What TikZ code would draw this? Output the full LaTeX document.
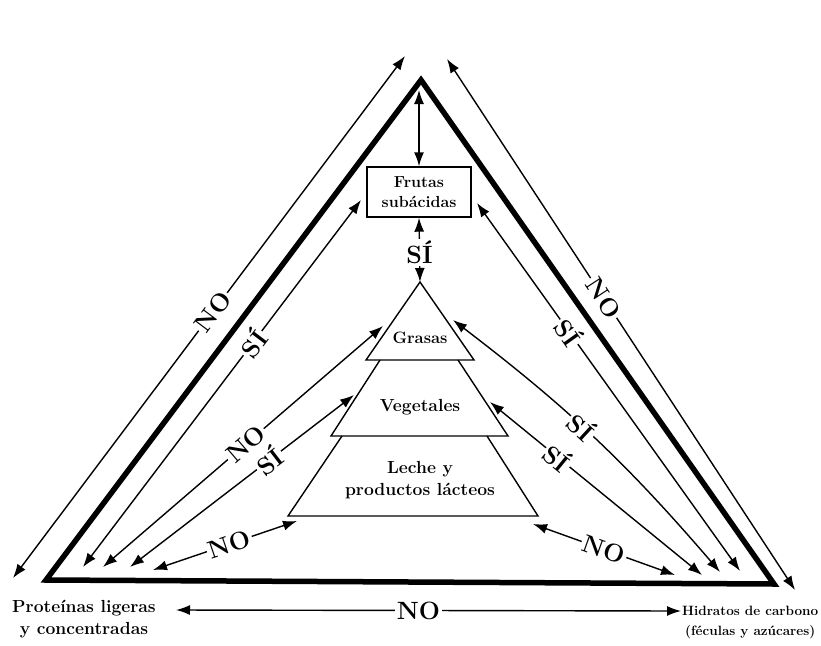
\documentclass[tikz,border=0pt]{standalone}
\usepackage{tikz}
\usetikzlibrary{positioning, arrows.meta}

\begin{document}
\begin{tikzpicture}[
    x=1pt, y=-1pt,
    frame/.style   = {line width=5.5pt, line join=miter, miter limit=10},
    tier/.style    = {line width=1.4pt, line join=miter},
    food/.style    = {font=\fontsize{17.5}{22}\selectfont\bfseries, align=center, inner sep=1pt},
    fruit/.style   = {draw, line width=1.4pt, font=\fontsize{16}{20}\selectfont\bfseries,
                      align=center, minimum width=104pt, minimum height=50pt, inner sep=2pt},
    pair/.style    = {{Latex[length=14pt,width=10pt]}-{Latex[length=14pt,width=10pt]}, line width=1.4pt},
    verdict/.style = {font=\fontsize{25}{25}\selectfont\bfseries, fill=white, inner sep=2pt},
  ]
    \useasboundingbox (0,0) rectangle (821,645);

    % --- outer triangle ---
    \coordinate (top) at (421,80);
    \coordinate (lft) at (46,580);
    \coordinate (rgt) at (774,584);
    \draw[frame] (top) -- (lft) -- (rgt) -- cycle;

    % --- corner groups ---
    \node[fruit] (fruta) at (419,192) {Frutas\\ subácidas};
    \node[food]  (prot)  at (84,619)  {Proteínas ligeras\\ y concentradas};
    \node[food, font=\fontsize{13.5}{20}\selectfont\bfseries, anchor=west]
                 (carb)  at (681,622) {Hidratos de carbono\\ (féculas y azúcares)};

    % --- pyramid ---
    \coordinate (peak) at (420,282);
    \draw[tier] (peak) -- (366,360) -- (474,360) -- cycle;
    \draw[tier] (380,360) -- (331,436) -- (508,436) -- (458,360);
    \draw[tier] (342,436) -- (288,516) -- (538,516) -- (487,436);
    \node[food, font=\fontsize{16.5}{22}\selectfont\bfseries] (grasas) at (420,338) {Grasas};
    \node[food] (veg)    at (420,407) {Vegetales};
    \node[food] (leche)  at (420,480) {Leche y\\ productos lácteos};

    % --- arrow ends ---
    \coordinate (apex) at (419,90);
    \coordinate (t1) at (405,56);   \coordinate (t2) at (447,59);
    \coordinate (fl) at (361,200);  \coordinate (fr) at (477,203);
    \coordinate (g1) at (383,326);  \coordinate (g2) at (453,320);
    \coordinate (v1) at (354,395);  \coordinate (v2) at (490,402);
    \coordinate (l1) at (297,521);  \coordinate (l2) at (533,524);
    \coordinate (a1) at (13,578);   \coordinate (b1) at (795,590);
    \coordinate (a2) at (83,567);   \coordinate (b2) at (740,571);
    \coordinate (a3) at (103,567);  \coordinate (b3) at (720,572);
    \coordinate (a4) at (130,567);  \coordinate (b4) at (702,575);
    \coordinate (a5) at (153,570);  \coordinate (b5) at (675,575);
    \coordinate (pa) at (176,610);  \coordinate (pb) at (681,611);

    % --- fruit and the pyramid ---
    \draw[pair] (apex) -- (fruta.north);
    \draw[pair] (fruta.south) -- node[verdict, pos=0.54] {SÍ} (peak);

    % --- left side ---
    \draw[pair] (t1) -- node[verdict, sloped, pos=0.49] {NO} (a1);
    \draw[pair] (fl) -- node[verdict, sloped, pos=0.39] {SÍ} (a2);
    \draw[pair] (a3) -- node[verdict, sloped, pos=0.51] {NO} (g1);
    \draw[pair] (a4) -- node[verdict, sloped, pos=0.62] {SÍ} (v1);
    \draw[pair] (a5) -- node[verdict, sloped, pos=0.53] {NO} (l1);

    % --- right side ---
    \draw[pair] (t2) -- node[verdict, sloped, pos=0.45] {NO} (b1);
    \draw[pair] (fr) -- node[verdict, sloped, pos=0.35] {SÍ} (b2);
    \draw[pair] (b3) to[bend right=6] node[verdict, sloped, pos=0.55] {SÍ} (g2);
    \draw[pair] (b4) -- node[verdict, sloped, pos=0.68] {SÍ} (v2);
    \draw[pair] (b5) -- node[verdict, sloped, pos=0.50] {NO} (l2);

    % --- along the bottom ---
    \draw[pair] (pa) -- node[verdict, pos=0.48] {NO} (pb);
  \end{tikzpicture}
\end{document}
